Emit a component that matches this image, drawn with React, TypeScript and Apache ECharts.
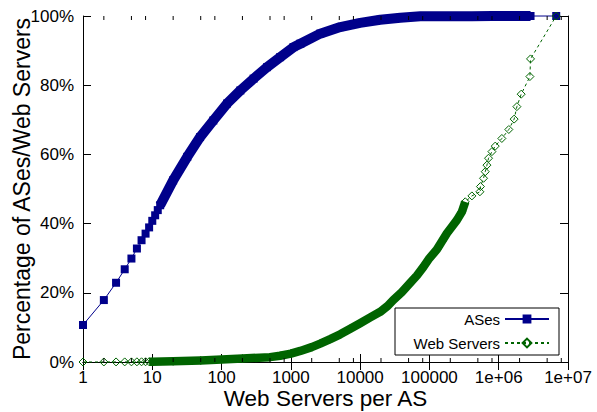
import { useEffect, useRef } from 'react';
import * as echarts from 'echarts';

const AS_X = [1, 2, 3, 4, 5, 6, 7, 8, 9, 10, 11, 12, 13, 20, 32, 49, 76, 120, 187, 290, 452, 700, 1090, 1370, 2650, 5160, 10000, 19500, 38000, 74000, 410000, 800000, 1400000, 2110000, 2880000, 6760000];
const AS_Y = [10.7, 17.9, 22.9, 26.8, 29.9, 32.8, 35.2, 37.1, 38.9, 40.8, 42.4, 43.9, 45.3, 52.5, 59.3, 65.0, 69.8, 74.7, 78.5, 81.9, 85.2, 88.1, 91.0, 92.0, 94.9, 96.8, 98.0, 98.9, 99.5, 99.9, 99.95, 99.97, 99.98, 99.99, 99.995, 100];

const WS_X = [1, 2, 3, 4, 5, 6, 7, 8, 9, 10, 20, 50, 100, 200, 500, 700, 1000, 1370, 2000, 2650, 3700, 5160, 7200, 10000, 14000, 19500, 25000, 30000, 40000, 52000, 66000, 82000, 100000, 128000, 151000, 179000, 211000, 249000, 294000, 329000, 410000, 535000, 545000, 604000, 639000, 676000, 713000, 798000, 891000, 1110000, 1400000, 1670000, 1830000, 2110000, 2820000, 2880000, 6760000];
const WS_Y = [0, 0.01, 0.02, 0.03, 0.04, 0.05, 0.06, 0.07, 0.08, 0.1, 0.2, 0.45, 0.7, 1.0, 1.4, 1.8, 2.4, 3.2, 4.3, 5.3, 6.6, 8.0, 9.6, 11.2, 12.9, 14.5, 16.2, 17.9, 20.2, 22.7, 25.0, 27.5, 30.0, 32.5, 34.8, 37.2, 39.1, 41.0, 43.4, 46.3, 48.0, 49.2, 50.7, 53.1, 55.0, 56.9, 58.9, 60.8, 62.4, 64.6, 67.2, 70.2, 73.8, 77.4, 82.5, 87.6, 100];

const X_TICK_LABELS = ['1', '10', '100', '1000', '10000', '100000', '1e+06', '1e+07'];
const Y_TICKS = [0, 20, 40, 60, 80, 100];
const MINOR_STEPS = [2, 5, 8];

const NAVY = '#00008b';
const GREEN = '#006400';
const FONT = '"Liberation Sans", Arial, Helvetica, sans-serif';

export default function App() {
  const ref = useRef<HTMLDivElement>(null);
  useEffect(() => {
    const chart = echarts.init(ref.current!, null, { renderer: 'svg' });
    const asData = AS_X.map((x, i) => [x, AS_Y[i]]);
    const wsData = WS_X.map((x, i) => [x, WS_Y[i]]);
    const asBand = asData.filter((d) => d[0] >= 13 && d[0] <= 2880000);
    const wsBand = wsData.filter((d) => d[0] >= 9 && d[0] <= 329000);
    const minor: number[][] = [];
    for (let e = 0; e < 7; e++) {
      MINOR_STEPS.forEach((m) => minor.push([m * Math.pow(10, e), 0]));
    }
    const tickStyle = { show: true, inside: true, length: 8, lineStyle: { color: '#000', width: 1 } };
    const lineAxis = { show: true, lineStyle: { color: '#000', width: 1 } };
    const option: any = {
      animation: false,
      backgroundColor: '#fff',
      textStyle: { fontFamily: FONT },
      grid: { left: 83, right: 29, top: 16, bottom: 50, containLabel: false, outerBoundsMode: 'none' },
      legend: {
        data: ['ASes', 'Web Servers'],
        orient: 'vertical',
        left: 395,
        top: 308,
        align: 'right',
        itemWidth: 44,
        itemHeight: 11,
        itemGap: 8,
        padding: [3, 9, 4, 12],
        borderColor: '#000',
        borderWidth: 1,
        borderRadius: 0,
        backgroundColor: '#fff',
        selectedMode: false,
        textStyle: { fontSize: 15, color: '#000', fontFamily: FONT, width: 93, lineHeight: 16 },
      },
      xAxis: [
        {
          type: 'log',
          logBase: 10,
          min: 1,
          max: 10000000,
          splitNumber: 7,
          name: 'Web Servers per AS',
          nameLocation: 'middle',
          nameGap: 26,
          nameMoveOverlap: false,
          nameTextStyle: { fontSize: 22.5, lineHeight: 20, color: '#000', fontFamily: FONT },
          axisLine: lineAxis,
          axisTick: tickStyle,
          splitLine: { show: false },
          axisLabel: {
            fontSize: 17,
            lineHeight: 17,
            color: '#000',
            margin: 7,
            fontFamily: FONT,
            formatter: (v: number) => X_TICK_LABELS[Math.round(Math.log10(v))] ?? '',
          },
        },
        {
          type: 'log',
          logBase: 10,
          min: 1,
          max: 10000000,
          splitNumber: 7,
          position: 'top',
          axisLine: lineAxis,
          axisTick: tickStyle,
          splitLine: { show: false },
          axisLabel: { show: false },
        },
      ],
      yAxis: [
        {
          type: 'value',
          min: 0,
          max: 100,
          interval: 20,
          name: 'Percentage of ASes/Web Servers',
          nameLocation: 'middle',
          nameGap: 50,
          nameMoveOverlap: false,
          nameTextStyle: { fontSize: 23, color: '#000', fontFamily: FONT },
          axisLine: lineAxis,
          axisTick: tickStyle,
          splitLine: { show: false },
          axisLabel: {
            fontSize: 17,
            color: '#000',
            margin: 9,
            fontFamily: FONT,
            formatter: (v: number) => (Y_TICKS.indexOf(v) >= 0 ? v + '%' : ''),
          },
        },
        {
          type: 'value',
          min: 0,
          max: 100,
          interval: 20,
          position: 'right',
          axisLine: lineAxis,
          axisTick: tickStyle,
          splitLine: { show: false },
          axisLabel: { show: false },
        },
      ],
      series: [
        {
          type: 'line',
          name: 'asBand',
          data: asBand,
          symbol: 'none',
          silent: true,
          clip: false,
          legendHoverLink: false,
          lineStyle: { color: NAVY, width: 10, join: 'round', cap: 'butt' },
          z: 2,
        },
        {
          type: 'line',
          name: 'ASes',
          data: asData,
          symbol: 'rect',
          symbolSize: 8,
          showAllSymbol: true,
          clip: false,
          itemStyle: { color: NAVY },
          lineStyle: { color: NAVY, width: 1 },
          z: 3,
        },
        {
          type: 'line',
          name: 'Web Servers',
          data: wsData,
          symbol: 'diamond',
          symbolSize: 8,
          showAllSymbol: true,
          clip: false,
          itemStyle: { color: 'rgba(0,0,0,0)', borderColor: GREEN, borderWidth: 1 },
          lineStyle: { color: GREEN, width: 1, type: [3, 3] },
          z: 4,
        },
        {
          type: 'line',
          name: 'wsBand',
          data: wsBand,
          symbol: 'none',
          silent: true,
          clip: false,
          legendHoverLink: false,
          lineStyle: { color: GREEN, width: 8.5, join: 'round', cap: 'butt' },
          z: 5,
        },
        {
          type: 'custom',
          name: 'minorTicks',
          silent: true,
          data: minor,
          xAxisIndex: 0,
          yAxisIndex: 0,
          z: 6,
          renderItem: (_p: any, api: any) => {
            const v = api.value(0);
            const b = api.coord([v, 0]);
            const t = api.coord([v, 100]);
            return {
              type: 'group',
              children: [
                { type: 'line', shape: { x1: b[0], y1: b[1], x2: b[0], y2: b[1] - 4 }, style: { stroke: '#000', lineWidth: 1 } },
                { type: 'line', shape: { x1: t[0], y1: t[1], x2: t[0], y2: t[1] + 4 }, style: { stroke: '#000', lineWidth: 1 } },
              ],
            };
          },
        },
      ],
    };
    chart.setOption(option);
    return () => chart.dispose();
  }, []);
  return <div ref={ref} style={{ position: 'fixed', left: 0, top: 0, width: 597, height: 412 }} />;
}
